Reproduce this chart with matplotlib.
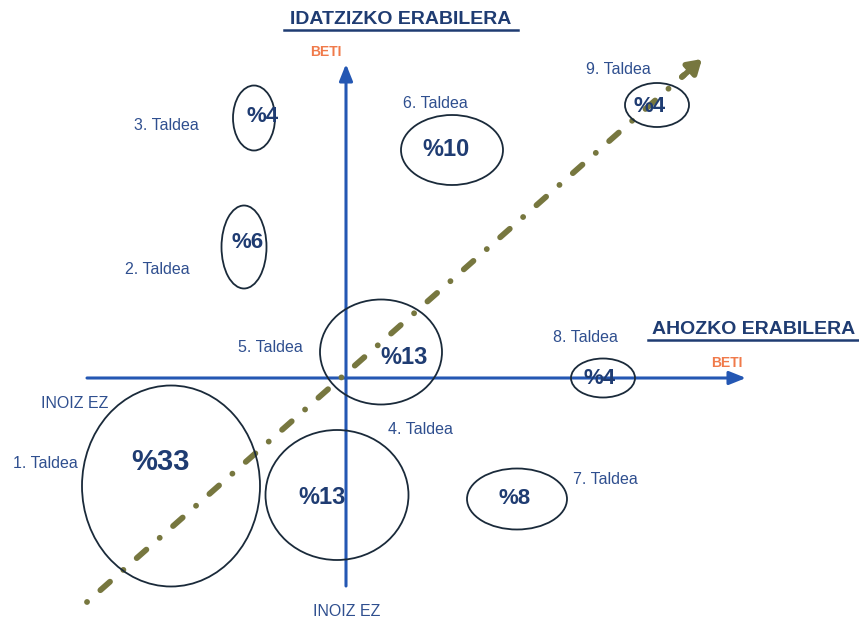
import matplotlib
matplotlib.use("Agg")
import matplotlib.pyplot as plt
from matplotlib.patches import Ellipse, FancyArrowPatch

plt.rcParams['font.family'] = ['Liberation Sans', 'DejaVu Sans']

# ---- data (pixel-space diagram coordinates) ----
groups = ["1. Taldea", "2. Taldea", "3. Taldea", "4. Taldea", "5. Taldea",
          "6. Taldea", "7. Taldea", "8. Taldea", "9. Taldea"]
percents = ["%33", "%6", "%4", "%13", "%13", "%10", "%8", "%4", "%4"]
ell_x = [171, 244, 254, 337, 381, 452, 517, 603, 657]
ell_y = [486, 247, 118, 495, 352, 150, 499, 378, 105]
ell_w = [178, 45, 42, 143, 122, 102, 100, 64, 64]
ell_h = [201, 83, 65, 130, 105, 70, 61, 39, 44]
pct_x = [160, 248, 263, 322, 404, 446, 515, 600, 650]
pct_y = [462, 242, 116, 497, 357, 150, 498, 379, 106]
pct_size = [21, 16, 16, 17, 17, 17, 16, 16, 16]
lab_x = [45, 157, 166, 420, 270, 435, 605, 585, 618]
lab_y = [463, 269, 125, 430, 347, 103, 480, 338, 70]

W, H = 859, 622
fig = plt.figure(figsize=(W / 100, H / 100), dpi=100)
ax = fig.add_axes([0, 0, 1, 1])
ax.set_xlim(0, W)
ax.set_ylim(H, 0)
ax.axis('off')

axis_col = '#2457b3'
navy = '#1f3c72'
lab_col = '#2f4f8f'
orange = '#f07a4a'
olive = '#77773f'

# axes arrows
ax.add_patch(FancyArrowPatch((87, 378), (746, 378), arrowstyle='-|>,head_length=10,head_width=4',
                             color=axis_col, lw=2.2, shrinkA=0, shrinkB=0, zorder=2))
ax.add_patch(FancyArrowPatch((346, 586), (346, 64), arrowstyle='-|>,head_length=10,head_width=4',
                             color=axis_col, lw=2.2, shrinkA=0, shrinkB=0, zorder=2))

# diagonal trend arrow
ax.plot([87, 684], [602, 75], color=olive, lw=4.2, dashes=[0.01, 3.05, 2.2, 3.05],
        dash_capstyle='round', zorder=4)
ax.add_patch(FancyArrowPatch((682, 77), (702, 59), arrowstyle='-|>,head_length=8,head_width=5',
                             color=olive, lw=4.0, shrinkA=0, shrinkB=0, zorder=4))

# ellipses
for x, y, w, h in zip(ell_x, ell_y, ell_w, ell_h):
    ax.add_patch(Ellipse((x, y), w, h, facecolor='none', edgecolor='#1a2a3a', lw=1.3, zorder=5))

for t, x, y, s in zip(percents, pct_x, pct_y, pct_size):
    ax.text(x, y, t, fontsize=s, fontweight='bold', color=navy, ha='center', va='center', zorder=6)

for t, x, y in zip(groups, lab_x, lab_y):
    ax.text(x, y, t, fontsize=11.5, color=lab_col, ha='center', va='center', zorder=6)

# titles
ax.text(401, 20, "IDATZIZKO ERABILERA", fontsize=14, fontweight='bold', color=navy, ha='center', va='center')
ax.plot([284, 518], [30, 30], color=navy, lw=1.8)
ax.text(754, 330, "AHOZKO ERABILERA", fontsize=14, fontweight='bold', color=navy, ha='center', va='center')
ax.plot([648, 858], [340, 340], color=navy, lw=1.8)
ax.text(326, 52, "BETI", fontsize=10, fontweight='bold', color=orange, ha='center', va='center')
ax.text(727, 363, "BETI", fontsize=10, fontweight='bold', color=orange, ha='center', va='center')
ax.text(75, 403, "INOIZ EZ", fontsize=11.5, color=lab_col, ha='center', va='center')
ax.text(347, 611, "INOIZ EZ", fontsize=11.5, color=lab_col, ha='center', va='center')

fig.savefig("out.png", dpi=100)
